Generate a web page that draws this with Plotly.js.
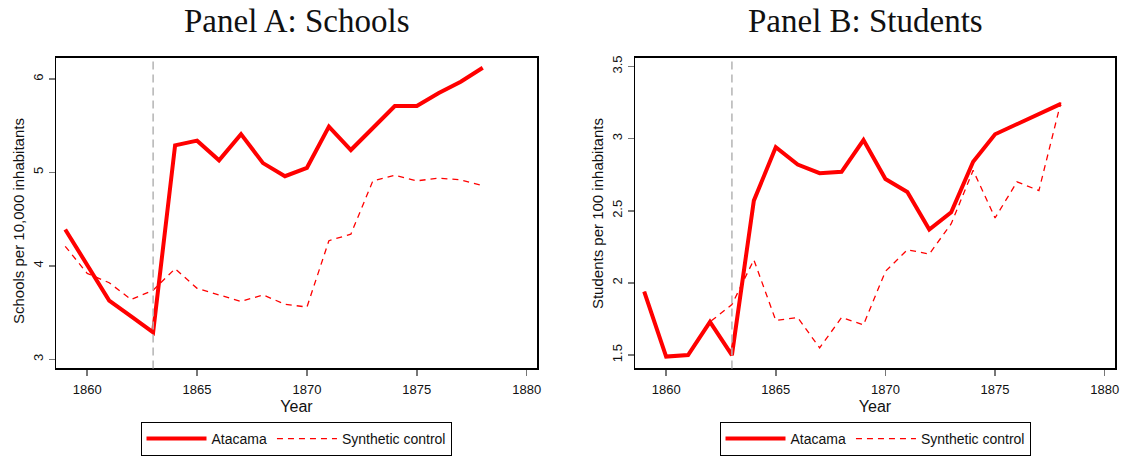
<!DOCTYPE html>
<html>
<head>
<meta charset="utf-8">
<script src="https://cdn.plot.ly/plotly-3.0.1.min.js"></script>
<style>html,body{margin:0;padding:0;background:#fff;}#chart{width:1127px;height:456px;}</style>
</head>
<body>
<div id="chart"></div>
<script>
// ---- data ----
const years = [1859,1860,1861,1862,1863,1864,1865,1866,1867,1868,1869,1870,1871,1872,1873,1874,1875,1876,1877,1878];
const schoolsAtacama = [4.39,4.01,3.63,3.46,3.29,5.29,5.34,5.13,5.41,5.10,4.96,5.05,5.49,5.24,5.47,5.71,5.71,5.85,5.97,6.12];
const schoolsSynthetic = [4.21,3.92,3.82,3.64,3.74,3.97,3.76,3.69,3.62,3.69,3.59,3.56,4.27,4.34,4.91,4.97,4.91,4.94,4.92,4.86];
const studentsAtacama = [1.94,1.49,1.50,1.73,1.50,2.57,2.94,2.82,2.76,2.77,2.99,2.72,2.63,2.37,2.49,2.84,3.03,3.10,3.17,3.24];
const studentsSynthetic = [1.94,1.49,1.50,1.73,1.85,2.16,1.74,1.76,1.55,1.76,1.71,2.08,2.23,2.20,2.41,2.78,2.45,2.70,2.64,3.25];
const treatmentYear = 1863;
const panelTitles = ["Panel A: Schools", "Panel B: Students"];
const yTitles = ["Schools per 10,000 inhabitants", "Students per 100 inhabitants"];
const xTitle = "Year";
const seriesNames = ["Atacama", "Synthetic control"];
const xTicks = [1860,1865,1870,1875,1880];
const yTicksA = [3,4,5,6];
const yTicksB = [1.5,2,2.5,3,3.5];

const RED = '#ff0000';
const SANS = 'Liberation Sans, Arial, sans-serif';
const tickFont = {family: SANS, size: 13, color: '#111'};

function solid(x, y, xa, ya, leg) {
  return {x: x, y: y, xaxis: xa, yaxis: ya, type: 'scatter', mode: 'lines', name: seriesNames[0],
    line: {color: RED, width: 4}, legend: leg};
}
function dashed(x, y, xa, ya, leg) {
  return {x: x, y: y, xaxis: xa, yaxis: ya, type: 'scatter', mode: 'lines', name: seriesNames[1],
    line: {color: RED, width: 1.3, dash: '6px,5px'}, legend: leg};
}

const data = [
  solid(years, schoolsAtacama, 'x', 'y', 'legend'),
  dashed(years, schoolsSynthetic, 'x', 'y', 'legend'),
  solid(years, studentsAtacama, 'x2', 'y2', 'legend2'),
  dashed(years, studentsSynthetic, 'x2', 'y2', 'legend2')
];

function xax(domain, anchor) {
  return {domain: domain, anchor: anchor, range: [1858.58, 1880.47], tickvals: xTicks,
    showgrid: false, zeroline: false, showline: true, mirror: true, linecolor: '#000', linewidth: 1.5,
    ticks: 'outside', ticklen: 6, tickcolor: '#777', tickwidth: 1.5, tickfont: tickFont, ticklabelstandoff: 3,
    title: {text: xTitle, font: {family: SANS, size: 16, color: '#111'}, standoff: 4}};
}
function yax(domain, anchor, range, ticks) {
  return {domain: domain, anchor: anchor, range: range, tickvals: ticks, tickangle: -90,
    showgrid: false, zeroline: false, showline: true, mirror: true, linecolor: '#000', linewidth: 1.5,
    ticks: 'outside', ticklen: 6, tickcolor: '#777', tickwidth: 1.5, tickfont: tickFont};
}

const yDom = [1 - 370/456, 1 - 58/456];
const legendBase = {orientation: 'h', y: 1 - 424/456, yanchor: 'top', xanchor: 'center',
  bordercolor: '#000', borderwidth: 1, bgcolor: '#fff',
  font: {family: SANS, size: 14, color: '#111'}, itemwidth: 60, tracegroupgap: 0};

const layout = {
  width: 1127, height: 456,
  margin: {l: 0, r: 0, t: 0, b: 0},
  paper_bgcolor: '#fff', plot_bgcolor: '#fff',
  showlegend: true,
  xaxis: xax([56/1127, 537/1127], 'y'),
  yaxis: yax(yDom, 'x', [2.904, 6.227], yTicksA),
  xaxis2: xax([635/1127, 1115/1127], 'y2'),
  yaxis2: yax(yDom, 'x2', [1.408, 3.56], yTicksB),
  legend: Object.assign({}, legendBase, {x: 296/1127}),
  legend2: Object.assign({}, legendBase, {x: 875/1127}),
  shapes: [
    {type: 'line', xref: 'x', yref: 'y domain', x0: treatmentYear, x1: treatmentYear, y0: 0, y1: 1,
      line: {color: '#b4b4b4', width: 1.5, dash: '8px,5px'}},
    {type: 'line', xref: 'x2', yref: 'y2 domain', x0: treatmentYear, x1: treatmentYear, y0: 0, y1: 1,
      line: {color: '#b4b4b4', width: 1.5, dash: '8px,5px'}}
  ],
  annotations: [
    {text: panelTitles[0], xref: 'paper', yref: 'paper', x: 297/1127, y: 1 - 21/456, xanchor: 'center', yanchor: 'middle',
      showarrow: false, font: {family: 'Liberation Serif, Times New Roman, serif', size: 33, color: '#111'}},
    {text: panelTitles[1], xref: 'paper', yref: 'paper', x: 865/1127, y: 1 - 21/456, xanchor: 'center', yanchor: 'middle',
      showarrow: false, font: {family: 'Liberation Serif, Times New Roman, serif', size: 33, color: '#111'}},
    {text: yTitles[0], xref: 'paper', yref: 'paper', x: 18/1127, y: 1 - 222/456, xanchor: 'center', yanchor: 'middle',
      textangle: -90, showarrow: false, font: {family: SANS, size: 15, color: '#111'}},
    {text: yTitles[1], xref: 'paper', yref: 'paper', x: 597/1127, y: 1 - 215/456, xanchor: 'center', yanchor: 'middle',
      textangle: -90, showarrow: false, font: {family: SANS, size: 15, color: '#111'}}
  ]
};

Plotly.newPlot('chart', data, layout, {displayModeBar: false, staticPlot: true});
</script>
</body>
</html>
